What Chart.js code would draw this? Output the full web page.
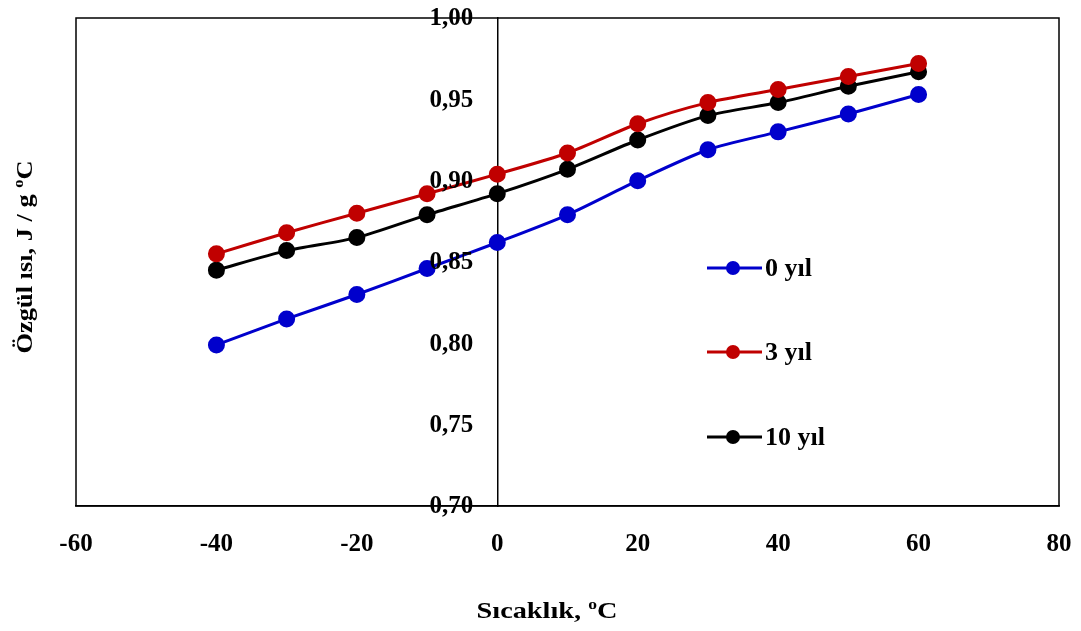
<!DOCTYPE html>
<html lang="tr">
<head>
<meta charset="UTF-8">
<title>Özgül ısı</title>
<style>
  html, body { margin: 0; padding: 0; background: #fff; }
  #wrap { width: 1081px; height: 631px; position: relative; }
</style>
</head>
<body>
<div id="wrap"><canvas id="grafik"></canvas></div>

<script src="https://cdn.jsdelivr.net/npm/chart.js"></script>
<script>
// sıcaklık (ºC)
const sicaklik = [-40, -30, -20, -10, 0, 10, 20, 30, 40, 50, 60];
// özgül ısı değerleri, J / g ºC
const yil0  = [0.799, 0.815, 0.830, 0.846, 0.862, 0.879, 0.900, 0.919, 0.930, 0.941, 0.953];
const yil3  = [0.855, 0.868, 0.880, 0.892, 0.904, 0.917, 0.935, 0.948, 0.956, 0.964, 0.972];
const yil10 = [0.845, 0.857, 0.865, 0.879, 0.892, 0.907, 0.925, 0.940, 0.948, 0.958, 0.967];
const seriAdlari = ['0 yıl', '3 yıl', '10 yıl'];
const renkler = ['#0000CC', '#C00000', '#000000'];

const FONT = '"Times New Roman", "Liberation Serif", serif';

function noktalar(degerler) {
  return sicaklik.map((x, i) => ({ x: x, y: degerler[i] }));
}

function virgullu(v) {
  return Number(v).toFixed(2).replace('.', ',');
}

const veriSetleri = [yil0, yil3, yil10].map((d, i) => ({
  label: seriAdlari[i],
  data: noktalar(d),
  borderColor: renkler[i],
  backgroundColor: renkler[i],
  pointBackgroundColor: renkler[i],
  pointBorderColor: renkler[i],
  borderWidth: 3,
  pointRadius: 7,
  tension: 0.25
}));

// "ºC" gibi üst simgeli metni parça parça, yatayda biraz genişletilmiş yazar
function ustSimgeliYaz(ctx, parcalar, x, y, boyut, genislik) {
  ctx.save();
  ctx.translate(x, y);
  ctx.scale(genislik, 1);
  let toplam = 0;
  parcalar.forEach(p => {
    ctx.font = 'bold ' + (p.ust ? boyut * 0.62 : boyut) + 'px ' + FONT;
    toplam += ctx.measureText(p.t).width;
  });
  let cx = -toplam / 2;
  ctx.textAlign = 'left';
  ctx.textBaseline = 'alphabetic';
  parcalar.forEach(p => {
    ctx.font = 'bold ' + (p.ust ? boyut * 0.62 : boyut) + 'px ' + FONT;
    ctx.fillText(p.t, cx, p.ust ? -boyut * 0.38 : 0);
    cx += ctx.measureText(p.t).width;
  });
  ctx.restore();
}

// eksen etiketlerinin grafik alanını daraltmasını engeller
function dolguyuSifirla(scale) {
  scale.paddingLeft = 0;
  scale.paddingRight = 0;
  scale.paddingTop = 0;
  scale.paddingBottom = 0;
}

const cerceve = {
  id: 'cerceve',
  beforeDatasetsDraw(chart) {
    const { ctx, chartArea: a } = chart;
    ctx.save();
    ctx.strokeStyle = '#000';
    ctx.lineWidth = 1.5;
    ctx.strokeRect(a.left, a.top, a.right - a.left, a.bottom - a.top);
    ctx.restore();
  },
  afterDraw(chart) {
    const { ctx } = chart;
    const x = chart.scales.x, y = chart.scales.y;

    // y ekseni değerleri, x = 0 çizgisinin solunda
    ctx.save();
    ctx.fillStyle = '#000';
    ctx.font = 'bold 25px ' + FONT;
    ctx.textAlign = 'right';
    ctx.textBaseline = 'middle';
    const eksenX = x.getPixelForValue(0);
    y.ticks.forEach(t => {
      ctx.fillText(virgullu(t.value), eksenX - 24, y.getPixelForValue(t.value) + 1);
    });
    ctx.restore();

    // eksen başlıkları
    ctx.save();
    ctx.fillStyle = '#000';
    ustSimgeliYaz(ctx, [{ t: 'Sıcaklık, ' }, { t: 'o', ust: true }, { t: 'C' }], 547, 618, 24, 1.18);
    ctx.translate(32, 257);
    ctx.rotate(-Math.PI / 2);
    ustSimgeliYaz(ctx, [{ t: 'Özgül ısı, J / g ' }, { t: 'o', ust: true }, { t: 'C' }], 0, 0, 24, 1.1);
    ctx.restore();

    // gösterge
    ctx.save();
    const x0 = 707, x1 = 762, ys = [268, 352, 437];
    chart.data.datasets.forEach((ds, i) => {
      const yy = ys[i];
      ctx.strokeStyle = ds.borderColor;
      ctx.lineWidth = 3;
      ctx.beginPath();
      ctx.moveTo(x0, yy);
      ctx.lineTo(x1, yy);
      ctx.stroke();
      ctx.fillStyle = ds.backgroundColor;
      ctx.beginPath();
      ctx.arc(733, yy, 7, 0, Math.PI * 2);
      ctx.fill();
      ctx.fillStyle = '#000';
      ctx.font = 'bold 26px ' + FONT;
      ctx.textAlign = 'left';
      ctx.textBaseline = 'middle';
      ctx.fillText(ds.label, x1 + 3, yy + 1);
    });
    ctx.restore();
  }
};

new Chart(document.getElementById('grafik'), {
  type: 'line',
  data: { datasets: veriSetleri },
  plugins: [cerceve],
  options: {
    responsive: true,
    maintainAspectRatio: false,
    animation: false,
    layout: { padding: { left: 76, right: 22, top: 18, bottom: 0 } },
    plugins: {
      legend: { display: false },
      tooltip: { enabled: false }
    },
    scales: {
      x: {
        type: 'linear',
        min: -60,
        max: 80,
        afterFit(scale) { scale.height = 125; dolguyuSifirla(scale); },
        ticks: {
          stepSize: 20,
          padding: 24,
          color: '#000',
          font: { family: FONT, size: 25, weight: 'bold' }
        },
        grid: { display: false, drawTicks: false },
        border: { display: true, color: '#000', width: 1.5 }
      },
      y: {
        type: 'linear',
        position: { x: 0 },
        min: 0.70,
        max: 1.00,
        afterFit: dolguyuSifirla,
        ticks: {
          display: false,
          stepSize: 0.05
        },
        grid: { display: false, drawTicks: false },
        border: { display: true, color: '#000', width: 1.5 }
      }
    }
  }
});
</script>
</body>
</html>
